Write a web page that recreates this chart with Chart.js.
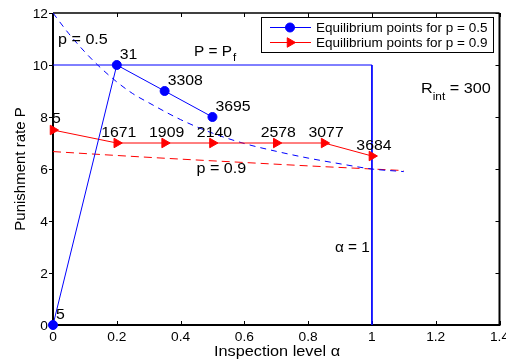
<!DOCTYPE html>
<html>
<head>
<meta charset="utf-8">
<script src="https://cdn.jsdelivr.net/npm/chart.js@4"></script>
<style>
  html, body { margin: 0; padding: 0; background: #fff; }
  #wrap { width: 506px; height: 360px; }
</style>
</head>
<body>
<div id="wrap"><canvas id="eqChart" width="506" height="360"></canvas></div>
<script>
// Equilibrium points (inspection level alpha, punishment rate P) and their labels
const alphaP05 = [0, 0.2, 0.35, 0.5];
const punishP05 = [0, 10, 9, 8];
const labelsP05 = ['5', '31', '3308', '3695'];

const alphaP09 = [0, 0.2, 0.35, 0.5, 0.7, 0.85, 1];
const punishP09 = [7.5, 7, 7, 7, 7, 7, 6.5];
const labelsP09 = ['5', '1671', '1909', '2140', '2578', '3077', '3684'];

// P = Pf / alpha = 1 boundary
const boundAlpha = [0, 1, 1];
const boundP = [10, 10, 0];

// dashed threshold curves
const curveAlpha05 = [0, 0.05, 0.1, 0.14, 0.2, 0.25, 0.3, 0.4, 0.5, 0.6, 0.7, 0.8, 0.9, 1.0, 1.1];
const curveP05 = [12, 11.2, 10.5, 10, 9.35, 8.9, 8.55, 7.9, 7.38, 6.98, 6.68, 6.42, 6.2, 6.0, 5.9];
const curveAlpha09 = [0, 0.2, 0.4, 0.6, 0.8, 1.0, 1.1];
const curveP09 = [6.67, 6.52, 6.38, 6.25, 6.12, 6.0, 5.94];

const xTicks = [0, 0.2, 0.4, 0.6, 0.8, 1, 1.2, 1.4];
const yTicks = [0, 2, 4, 6, 8, 10, 12];

const BLUE = '#0000ff';
const RED = '#ff0000';
const FONT = '"Liberation Sans", Arial, Helvetica, sans-serif';

function toPoints(xs, ys) {
    return xs.map((x, i) => ({ x: x, y: ys[i] }));
}

// MATLAB-exported text is a bit wider than normal, so stretch it horizontally
function drawText(ctx, str, x, y, size, sx, align) {
    ctx.save();
    ctx.font = size + 'px ' + FONT;
    const w = ctx.measureText(str).width * sx;
    let x0 = x;
    if (align === 'center') x0 = x - w / 2;
    if (align === 'right') x0 = x - w;
    ctx.translate(x0, y);
    ctx.scale(sx, 1);
    ctx.textAlign = 'left';
    ctx.fillText(str, 0, 0);
    ctx.restore();
    return w;
}

// Axes box, ticks and tick labels
const framePlugin = {
    id: 'frame',
    beforeDatasetsDraw(chart) {
        const ctx = chart.ctx;
        const a = chart.chartArea;
        const xs = chart.scales.x, ys = chart.scales.y;
        ctx.save();
        ctx.strokeStyle = '#000';
        ctx.lineWidth = 1;
        xTicks.forEach(v => {
            const px = Math.round(xs.getPixelForValue(v)) + 0.5;
            ctx.beginPath();
            ctx.moveTo(px, a.bottom); ctx.lineTo(px, a.bottom - 4);
            ctx.moveTo(px, a.top); ctx.lineTo(px, a.top + 4);
            ctx.stroke();
        });
        yTicks.forEach(v => {
            const py = Math.round(ys.getPixelForValue(v)) + 0.5;
            ctx.beginPath();
            ctx.moveTo(a.left - 4, py); ctx.lineTo(a.left, py);
            ctx.moveTo(a.right, py); ctx.lineTo(a.right - 4, py);
            ctx.stroke();
        });
        ctx.lineWidth = 1.5;
        ctx.beginPath();
        ctx.moveTo(a.left, a.top); ctx.lineTo(a.right, a.top);
        ctx.stroke();
        ctx.lineWidth = 2;
        ctx.beginPath();
        ctx.moveTo(a.left, a.top); ctx.lineTo(a.left, a.bottom);
        ctx.lineTo(a.right, a.bottom); ctx.lineTo(a.right, a.top);
        ctx.stroke();

        ctx.fillStyle = '#000';
        ctx.textBaseline = 'alphabetic';
        xTicks.forEach(v => {
            drawText(ctx, String(v), xs.getPixelForValue(v), a.bottom + 16, 12.5, 1.1, 'center');
        });
        yTicks.forEach(v => {
            drawText(ctx, String(v), a.left - 5, ys.getPixelForValue(v) + 4.5, 12.5, 1.1, 'right');
        });

        // axis titles
        drawText(ctx, 'Inspection level \u03b1', 277, 356, 15.5, 1.05, 'center');
        ctx.save();
        ctx.translate(25, 169);
        ctx.rotate(-Math.PI / 2);
        drawText(ctx, 'Punishment rate P', 0, 0, 15, 1.0, 'center');
        ctx.restore();
        ctx.restore();
    }
};

// Point labels, curve labels and the legend
const notesPlugin = {
    id: 'notes',
    afterDraw(chart) {
        const ctx = chart.ctx;
        const xs = chart.scales.x, ys = chart.scales.y;
        ctx.save();
        ctx.fillStyle = '#000';

        alphaP05.forEach((a, i) => {
            const px = xs.getPixelForValue(a), py = ys.getPixelForValue(punishP05[i]);
            drawText(ctx, labelsP05[i], px + 3, py - 6, 14, 1.13, 'left');
        });
        alphaP09.forEach((a, i) => {
            const px = xs.getPixelForValue(a), py = ys.getPixelForValue(punishP09[i]);
            if (i === 0) {
                drawText(ctx, labelsP09[i], px - 1, py - 7, 14, 1.13, 'left');
            } else {
                drawText(ctx, labelsP09[i], px + 2, py - 6, 14, 1.13, 'center');
            }
        });

        drawText(ctx, 'p = 0.5', xs.getPixelForValue(0.016), ys.getPixelForValue(10.8), 14, 1.15, 'left');
        drawText(ctx, 'p = 0.9', xs.getPixelForValue(0.45), ys.getPixelForValue(5.85), 14, 1.15, 'left');
        drawText(ctx, '\u03b1 = 1', xs.getPixelForValue(1) - 2, ys.getPixelForValue(2.8), 14, 1.1, 'right');

        let w = drawText(ctx, 'P = P', 194, 56, 14, 1.1, 'left');
        drawText(ctx, 'f', 194 + w + 1, 61, 10.5, 1.1, 'left');

        w = drawText(ctx, 'R', 421, 93, 15, 1.08, 'left');
        const w2 = drawText(ctx, 'int', 421 + w, 100, 11, 1.08, 'left');
        drawText(ctx, ' = 300', 421 + w + w2, 93, 15, 1.08, 'left');

        // legend box
        ctx.fillStyle = '#fff';
        ctx.fillRect(261.5, 17.5, 232, 35);
        ctx.strokeStyle = '#000';
        ctx.lineWidth = 1;
        ctx.strokeRect(261.5, 17.5, 232, 35);
        const rows = [
            { text: 'Equilibrium points for p = 0.5', color: BLUE, style: 'circle', r: 4.5, rot: 0, y: 27.5 },
            { text: 'Equilibrium points for p = 0.9', color: RED, style: 'triangle', r: 5.5, rot: 90, y: 42.5 }
        ];
        rows.forEach(row => {
            ctx.strokeStyle = row.color;
            ctx.fillStyle = row.color;
            ctx.beginPath();
            ctx.moveTo(270, row.y); ctx.lineTo(311, row.y);
            ctx.stroke();
            Chart.helpers.drawPoint(ctx, { pointStyle: row.style, radius: row.r, rotation: row.rot, borderWidth: 1 }, 290, row.y);
            ctx.fillStyle = '#000';
            drawText(ctx, row.text, 316, row.y + 4.5, 12.5, 1.08, 'left');
        });
        ctx.restore();
    }
};

const ctx1 = document.getElementById('eqChart').getContext('2d');
const eqChart = new Chart(ctx1, {
    type: 'line',
    data: {
        datasets: [{
            label: 'Equilibrium points for p = 0.5',
            data: toPoints(alphaP05, punishP05),
            borderColor: BLUE,
            backgroundColor: BLUE,
            borderWidth: 1,
            pointStyle: 'circle',
            pointRadius: 4.5,
            clip: false
        }, {
            label: 'Equilibrium points for p = 0.9',
            data: toPoints(alphaP09, punishP09),
            borderColor: RED,
            backgroundColor: RED,
            borderWidth: 1,
            pointStyle: 'triangle',
            pointRotation: 90,
            pointRadius: 5.5,
            clip: false
        }, {
            label: 'P = Pf',
            data: toPoints(boundAlpha, boundP),
            borderColor: BLUE,
            borderWidth: 1,
            pointRadius: 0
        }, {
            label: 'p = 0.5',
            data: toPoints(curveAlpha05, curveP05),
            borderColor: BLUE,
            borderWidth: 1,
            borderDash: [6, 5],
            pointRadius: 0,
            cubicInterpolationMode: 'monotone'
        }, {
            label: 'p = 0.9',
            data: toPoints(curveAlpha09, curveP09),
            borderColor: RED,
            borderWidth: 1,
            borderDash: [8, 5],
            pointRadius: 0,
            cubicInterpolationMode: 'monotone'
        }]
    },
    options: {
        responsive: false,
        animation: false,
        layout: { padding: { top: 13, right: 6, left: 0, bottom: 0 } },
        plugins: {
            legend: { display: false },
            tooltip: { enabled: false }
        },
        scales: {
            x: {
                type: 'linear',
                min: 0,
                max: 1.4,
                ticks: { display: false },
                grid: { display: false },
                border: { display: false },
                afterFit: s => { s.height = 35; }
            },
            y: {
                min: 0,
                max: 12,
                ticks: { display: false },
                grid: { display: false },
                border: { display: false },
                afterFit: s => { s.width = 53; }
            }
        }
    },
    plugins: [framePlugin, notesPlugin]
});
</script>
</body>
</html>
